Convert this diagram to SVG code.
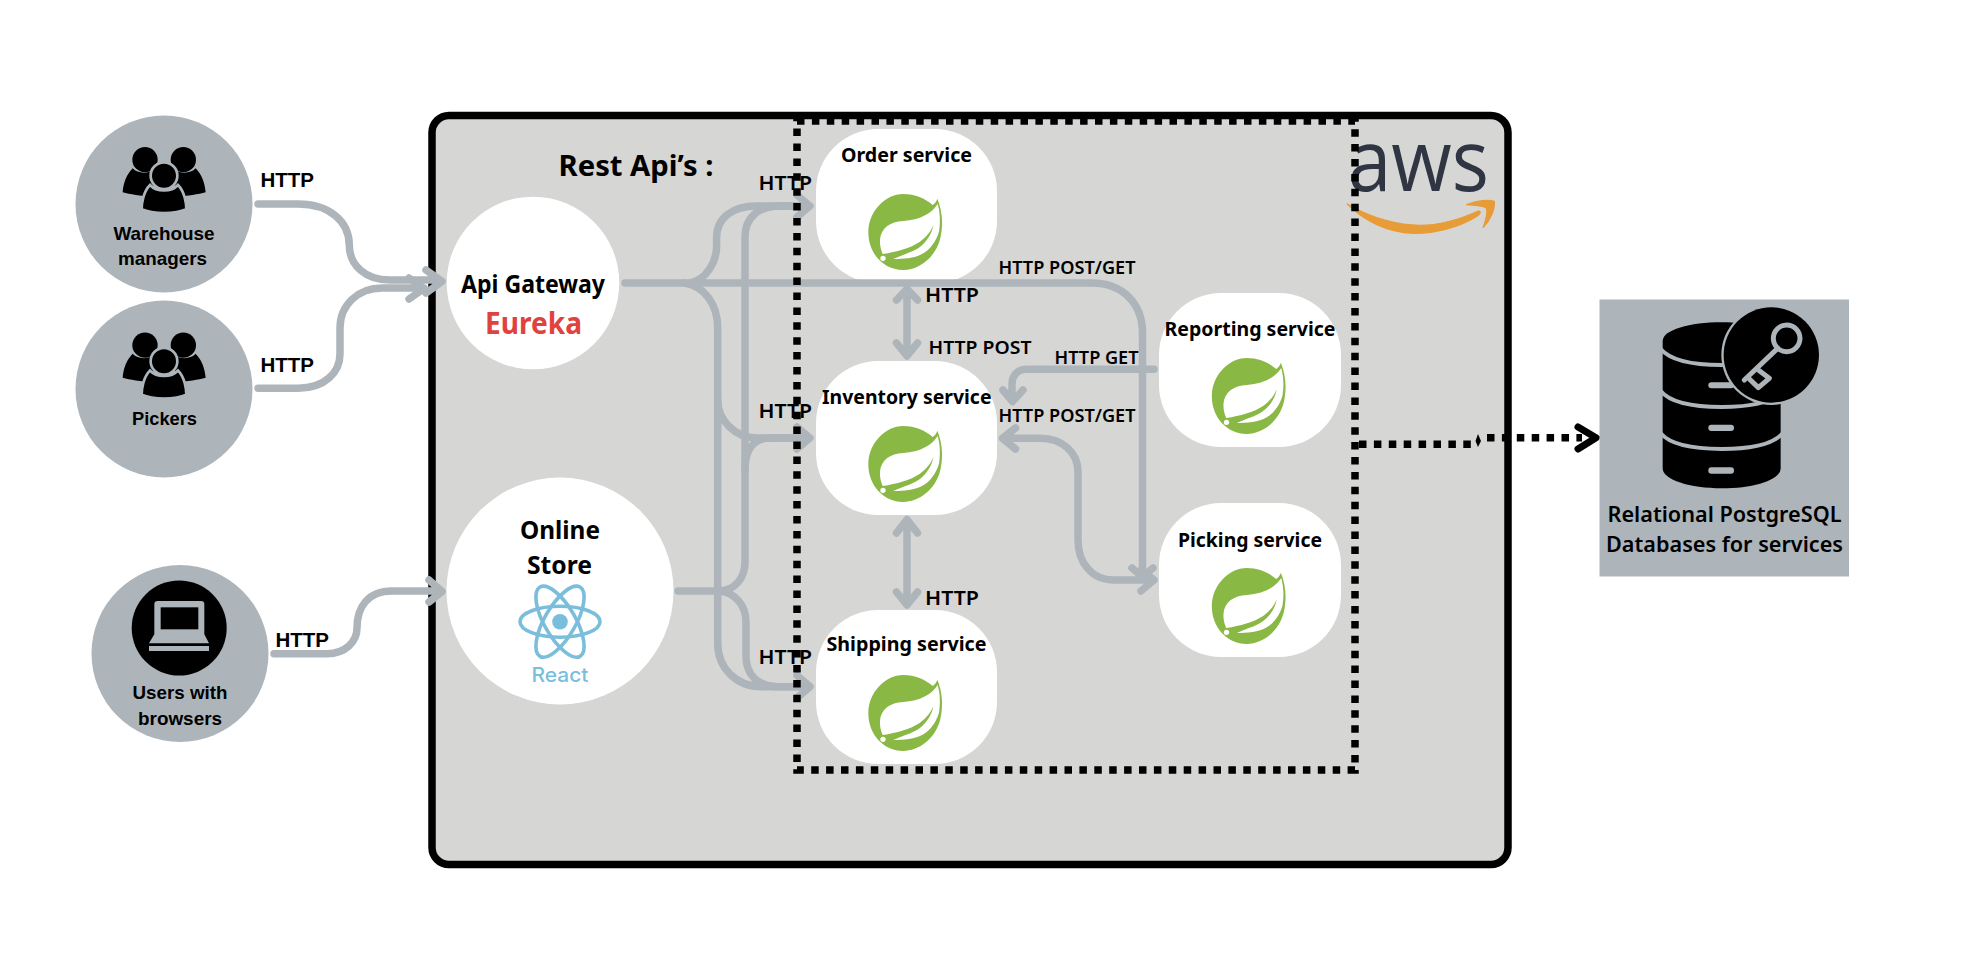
<svg xmlns="http://www.w3.org/2000/svg" width="1986" height="962" viewBox="0 0 1986 962">
<style>
text{font-family:"Noto Sans","Liberation Sans",sans-serif;font-weight:700;fill:#000}
.o{font-family:"Liberation Sans",Arial,sans-serif;font-size:19px}
.h{font-family:"Liberation Sans",Arial,sans-serif;font-size:21px}
.s{font-size:20px}
.l{font-size:20px;font-weight:600}
.m{font-size:17px;font-weight:600}
.n{font-size:25px}
.gray{fill:#adb5bb}
.white{fill:#fff}
.svc{fill:#fff}
.c{fill:none;stroke:#adb5bb;stroke-width:7.5;stroke-linecap:round;stroke-linejoin:round}
.d{fill:none;stroke:#000;stroke-width:7.5;stroke-dasharray:7.5 7.4}
</style>
<defs>
<g id="spring">
<path fill="#8ab845" d="M232 26C246 60 251 100 241 145C226 205 175 240 130 240C70 240 25 190 25 127C25 65 75 12 130 12C165 12 195 25 218 45C225 40 230 33 232 26Z"/>
<path fill="#fff" d="M233 42C216 70 180 90 130 93C90 95 62 115 60 150C59 165 62 178 68 192C110 185 150 175 180 155C200 140 212 125 220 105C215 135 195 165 165 180C145 190 120 198 100 207C130 207 165 205 190 190C210 178 228 155 237 125C242 95 240 65 233 42Z"/>
<circle cx="69" cy="205" r="8" fill="#fff"/>
</g>
<g id="people">
<path d="M68 100C82 115 110 118 130 105V186C90 183 60 178 38 172C40 145 50 118 68 100Z"/>
<path d="M257 100C243 115 215 118 195 105V186C235 183 265 178 287 172C285 145 275 118 257 100Z"/>
<circle cx="105" cy="74" r="38"/>
<circle cx="220" cy="74" r="38"/>
<path d="M120 150C100 170 95 205 95 223C130 238 195 238 229 223C229 205 224 170 204 150C184 172 140 172 120 150Z" stroke="#adb5bb" stroke-width="8"/>
<circle cx="162" cy="122" r="40" stroke="#adb5bb" stroke-width="8"/>
</g>
</defs>

<rect id="main-box" x="432" y="115.5" width="1076" height="749" rx="17" fill="#d6d6d4" stroke="#000" stroke-width="7.5"/>
<g id="aws-logo">
<text x="1348" y="191" font-size="86" textLength="141" lengthAdjust="spacingAndGlyphs" style="font-family:'Open Sans',sans-serif;font-weight:500;fill:#2f3542">aws</text>
<g transform="translate(1340 130) scale(.3333)" fill="#e89c38" stroke="#e89c38" stroke-width="4" stroke-linejoin="round">
<path d="M22 222C100 268 180 286 240 286C300 286 360 268 415 243C425 245 420 252 412 258C360 292 280 312 220 310C140 307 70 270 22 222Z"/>
<path d="M380 224C410 212 445 208 463 214C465 240 450 272 430 292C432 285 444 255 440 235C430 225 400 225 380 224Z"/>
</g>
</g>

<g id="warehouse-managers">
<circle class="gray" cx="164" cy="204" r="88.5"/>
<use href="#people" transform="translate(110 135) scale(.3333)"/>
<text class="o" x="113.5" y="240" textLength="101" lengthAdjust="spacingAndGlyphs">Warehouse</text>
<text class="o" x="118" y="265" textLength="89" lengthAdjust="spacingAndGlyphs">managers</text>
</g>
<g id="pickers">
<circle class="gray" cx="164" cy="389" r="88.5"/>
<use href="#people" transform="translate(110 320.5) scale(.3333)"/>
<text class="o" x="132" y="424.5" textLength="65" lengthAdjust="spacingAndGlyphs">Pickers</text>
</g>
<g id="users">
<circle class="gray" cx="180" cy="653.5" r="88.5"/>
<circle cx="179.2" cy="628" r="47.5"/>
<g transform="translate(125 575) scale(.3333)">
<path class="gray" d="M88 88Q88 78 98 78H228Q238 78 238 88V178L252 205H72L88 178Z"/>
<rect x="107" y="97" width="113" height="66"/>
<rect class="gray" x="72" y="213" width="180" height="15"/>
</g>
<text class="o" x="132.5" y="699" textLength="95" lengthAdjust="spacingAndGlyphs">Users with</text>
<text class="o" x="138" y="724.5" textLength="84" lengthAdjust="spacingAndGlyphs">browsers</text>
</g>
<g id="api-gateway">
<circle class="white" cx="533" cy="283" r="86.3"/>
<text class="n" x="461" y="292.5" textLength="144" lengthAdjust="spacingAndGlyphs">Api Gateway</text>
<text x="485" y="334" font-size="30" textLength="97" lengthAdjust="spacingAndGlyphs" style="fill:#e0423e">Eureka</text>
</g>
<g id="online-store">
<circle class="white" cx="560" cy="591" r="113.5"/>
<text class="n" x="520" y="539" textLength="80" lengthAdjust="spacingAndGlyphs">Online</text>
<text class="n" x="527" y="574" textLength="65" lengthAdjust="spacingAndGlyphs">Store</text>
<g fill="none" stroke="#7bbedb" stroke-width="3.6">
<ellipse cx="560" cy="621.7" rx="40" ry="15.5"/>
<ellipse cx="560" cy="621.7" rx="40" ry="15.5" transform="rotate(60 560 621.7)"/>
<ellipse cx="560" cy="621.7" rx="40" ry="15.5" transform="rotate(-60 560 621.7)"/>
</g>
<circle cx="560" cy="621.7" r="7.8" fill="#7bbedb"/>
<text x="531.5" y="681.5" font-size="20" textLength="57" lengthAdjust="spacingAndGlyphs" style="font-family:Inter,sans-serif;font-weight:500;fill:#7bbedb">React</text>
</g>
<g id="order-service">
<rect class="svc" x="816" y="129" width="181" height="154" rx="62"/>
<text class="s" x="841" y="161.5" textLength="131" lengthAdjust="spacingAndGlyphs">Order service</text>
<use href="#spring" transform="translate(860 190) scale(.3333)"/>
</g>
<g id="inventory-service">
<rect class="svc" x="816" y="361" width="181" height="154" rx="62"/>
<text class="s" x="822" y="403.5" textLength="169.5" lengthAdjust="spacingAndGlyphs">Inventory service</text>
<use href="#spring" transform="translate(860 422) scale(.3333)"/>
</g>
<g id="shipping-service">
<rect class="svc" x="816" y="610" width="181" height="154" rx="62"/>
<text class="s" x="826.5" y="651" textLength="160" lengthAdjust="spacingAndGlyphs">Shipping service</text>
<use href="#spring" transform="translate(860 671) scale(.3333)"/>
</g>
<g id="reporting-service">
<rect class="svc" x="1159" y="293" width="182" height="154" rx="62"/>
<text class="s" x="1164.5" y="336" textLength="171" lengthAdjust="spacingAndGlyphs">Reporting service</text>
<use href="#spring" transform="translate(1203.5 354) scale(.3333)"/>
</g>
<g id="picking-service">
<rect class="svc" x="1159" y="503" width="182" height="154" rx="62"/>
<text class="s" x="1178" y="546.5" textLength="144" lengthAdjust="spacingAndGlyphs">Picking service</text>
<use href="#spring" transform="translate(1203.5 564) scale(.3333)"/>
</g>
<g id="database">
<rect class="gray" x="1599.5" y="299.5" width="249.5" height="277"/>
<g transform="translate(1650 305) scale(.3333)">
<path d="M38 108C38 75 120 52 215 52C310 52 392 75 392 108V490C392 525 310 550 215 550C120 550 38 525 38 490Z"/>
<g fill="none" stroke="#adb5bb" stroke-width="12">
<path d="M32 132C60 165 130 180 215 180C300 180 370 165 398 132"/>
<path d="M32 258C60 292 130 306 215 306C300 306 370 292 398 258"/>
<path d="M32 385C60 418 130 432 215 432C300 432 370 418 398 385"/>
</g>
<g class="gray">
<rect x="175" y="232" width="77" height="18" rx="9"/>
<rect x="175" y="359" width="77" height="19" rx="9"/>
<rect x="175" y="487" width="77" height="19" rx="9"/>
</g>
<circle cx="364" cy="150" r="150" fill="#adb5bb"/>
<circle cx="364" cy="150" r="143"/>
<g fill="none" stroke="#adb5bb" stroke-width="15" stroke-linecap="round" stroke-linejoin="round">
<circle cx="410" cy="100" r="40"/>
<path d="M383 130L283 225"/>
<path d="M326 196L358 220L325 248L298 222"/>
</g>
</g>
<text class="m" x="1607.5" y="521.5" style="font-size:21px" textLength="234" lengthAdjust="spacingAndGlyphs">Relational PostgreSQL</text>
<text class="m" x="1606" y="551.5" style="font-size:21px" textLength="237" lengthAdjust="spacingAndGlyphs">Databases for services</text>
</g>

<g id="connectors">
<path class="c" d="M258 204H298C330 204 349.300 222 349.300 245C349.300 265 365 280 390 280H440M426 270L442 281.500L426 293"/>
<path class="c" d="M258 388.300H298C325 388.300 340 372 340 354V328C340 305 358 288 382 288H424M409 278L424 288.500L409 299"/>
<path class="c" d="M274 653.700H327C345 653.700 357 642 357 628C357 607 368 591 392 591H440M429 580L442 591.500L429 602"/>
<path class="c" d="M625 283H1092C1122 283 1142.500 303 1142.500 333V576M1132 568L1142.500 577L1153 568"/>
<path class="c" d="M690 283C706 280 716.600 262 716.600 246V238C716.600 218 732 206 757 206H808M797 195L810 206L797 217"/>
<path class="c" d="M684 283C705 286 717.700 305 717.700 328V643C717.700 668 736 686.700 762 686.700H808M797 675.500L810 686.700L797 698"/>
<path class="c" d="M717.700 400C717.700 420 735 438 757 438H808M797 427L810 438L797 449"/>
<path class="c" d="M678 591H720C735 590 745 578 745 562V237C745 218 758 206 780 206H808"/>
<path class="c" d="M745 470C745 452 752 438 770 438H808"/>
<path class="c" d="M720 591C735 593 746 605 746 622V656C746 675 758 686.700 778 686.700H808"/>
<path class="c" d="M907 292V354M896.500 300L907 289L917.500 300M896.500 343L907 356L917.500 343"/>
<path class="c" d="M907 522V602M896.500 533L907 519.500L917.500 533M896.500 592L907 605L917.500 592"/>
<path class="c" d="M1154 369.300H1026C1017 369.300 1012 376 1012 384V400M1003 390L1012.500 401.500L1023 390"/>
<path class="c" d="M1005 438.300H1040C1062 438.300 1078 452 1078 472V540C1078 563 1092 580 1114 580H1152M1015.500 428L1002.500 438.300L1015.500 449M1141 570L1154 580L1141 591"/>
</g>

<rect id="vpc-boundary" class="d" x="797" y="121" width="558" height="649"/>

<g id="db-link">
<path class="d" d="M1359 444.300H1471M1487 437.700H1582"/>
<path d="M1478 434L1481 441L1478 447L1475.500 441Z"/>
<path fill="none" stroke="#000" stroke-width="7" stroke-linecap="round" stroke-linejoin="round" d="M1578 427L1596 437.700L1578 449"/>
</g>

<g id="labels">
<text class="h" x="260.500" y="187" textLength="53.500" lengthAdjust="spacingAndGlyphs">HTTP</text>
<text class="h" x="260.500" y="372" textLength="53.500" lengthAdjust="spacingAndGlyphs">HTTP</text>
<text class="h" x="275.500" y="646.500" textLength="53.500" lengthAdjust="spacingAndGlyphs">HTTP</text>
<text x="558.500" y="176" font-size="29" textLength="155" lengthAdjust="spacingAndGlyphs">Rest Api’s :</text>
<text class="l" x="758.500" y="190" textLength="53.500" lengthAdjust="spacingAndGlyphs">HTTP</text>
<text class="l" x="758.500" y="417.500" textLength="53.500" lengthAdjust="spacingAndGlyphs">HTTP</text>
<text class="l" x="758.500" y="664" textLength="53.500" lengthAdjust="spacingAndGlyphs">HTTP</text>
<text class="l" x="925" y="302" textLength="54" lengthAdjust="spacingAndGlyphs">HTTP</text>
<text class="l" x="925" y="604.500" textLength="54" lengthAdjust="spacingAndGlyphs">HTTP</text>
<text class="m" x="928.500" y="353.500" textLength="103" lengthAdjust="spacingAndGlyphs">HTTP POST</text>
<text class="m" x="998.500" y="273.500" textLength="137" lengthAdjust="spacingAndGlyphs">HTTP POST/GET</text>
<text class="m" x="998.500" y="422" textLength="137" lengthAdjust="spacingAndGlyphs">HTTP POST/GET</text>
<text class="m" x="1054.500" y="363.500" textLength="84" lengthAdjust="spacingAndGlyphs">HTTP GET</text>
</g>
</svg>
